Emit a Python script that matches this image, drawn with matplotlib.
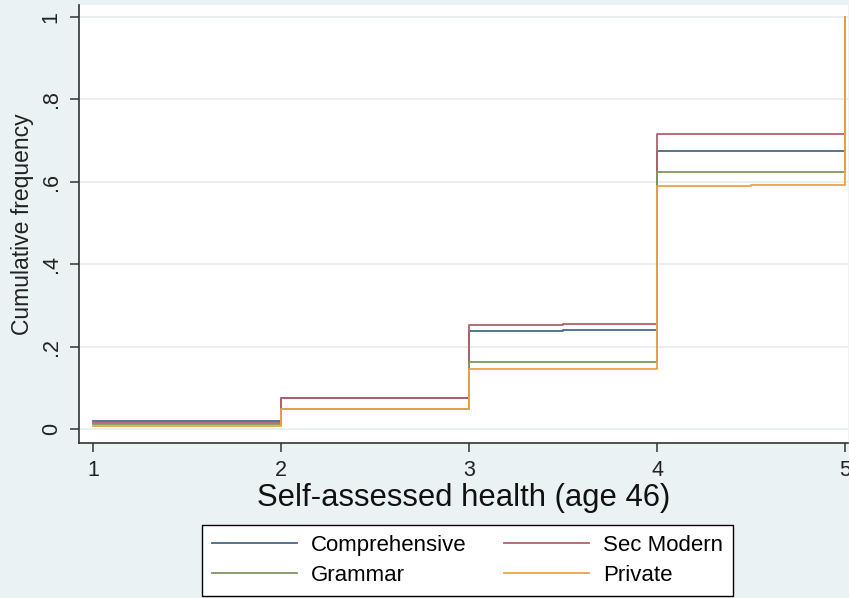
import matplotlib.pyplot as plt

# health score positions (with the half-step breaks) and cumulative frequencies
health = [1, 2, 3, 3.5, 4, 4.5, 5]
comprehensive = [0.020, 0.075, 0.238, 0.241, 0.674, 0.674, 1.0]
sec_modern = [0.016, 0.077, 0.252, 0.255, 0.716, 0.716, 1.0]
grammar = [0.012, 0.048, 0.164, 0.164, 0.624, 0.624, 1.0]
private = [0.007, 0.048, 0.147, 0.147, 0.589, 0.593, 1.0]

series_names = ["Comprehensive", "Sec Modern", "Grammar", "Private"]
series_colors = ["#47698a", "#b3606a", "#7c9a5c", "#f0a040"]

x_ticks = [1, 2, 3, 4, 5]
y_ticks = [0, 0.2, 0.4, 0.6, 0.8, 1.0]
y_tick_labels = ["0", ".2", ".4", ".6", ".8", "1"]

plt.rcParams["font.family"] = ["Liberation Sans", "DejaVu Sans"]

fig = plt.figure(figsize=(8.49, 5.98), dpi=100, facecolor="#eaf2f3")
ax = fig.add_axes([79 / 849, 1 - 443 / 598, (848 - 79) / 849, (443 - 5) / 598])
ax.set_facecolor("white")

lines = []
for ys, name, col in zip([comprehensive, sec_modern, grammar, private],
                         series_names, series_colors):
    ln, = ax.step(health, ys, where="post", color=col, lw=1.3, label=name)
    lines.append(ln)

ax.set_xlim(0.924, 5.016)
ax.set_ylim(-0.0332, 1.0284)
ax.set_xticks(x_ticks)
ax.set_yticks(y_ticks)
ax.set_yticklabels(y_tick_labels, rotation=90, va="center")
ax.yaxis.grid(True, color="#e6eef0", lw=1.2)
ax.set_axisbelow(True)

for side in ["top", "right"]:
    ax.spines[side].set_visible(False)
for side in ["left", "bottom"]:
    ax.spines[side].set_color("#333333")
    ax.spines[side].set_linewidth(1.2)
ax.tick_params(axis="both", length=6.5, width=1.1, color="#333333",
               labelsize=15.5, labelcolor="#222222", pad=6)

ax.set_xlabel("Self-assessed health (age 46)", fontsize=22.3, color="#111111", labelpad=1)
ax.set_ylabel("Cumulative frequency", fontsize=16.5, color="#222222", labelpad=5)

# legend filled row by row: Comprehensive, Sec Modern / Grammar, Private
order = [0, 2, 1, 3]
leg = fig.legend([lines[i] for i in order], [series_names[i] for i in order],
                 loc="center", bbox_to_anchor=(467.5 / 849, 1 - (524 + 597) / 2 / 598),
                 ncol=2, fontsize=16, handlelength=3.8, handletextpad=0.63,
                 columnspacing=1.7, labelspacing=0.42, frameon=True, fancybox=False,
                 borderpad=0.45, borderaxespad=0)
leg.get_frame().set_edgecolor("black")
leg.get_frame().set_linewidth(1.0)
leg.get_frame().set_facecolor("white")
leg.get_frame().set_alpha(1)

fig.savefig("out.png", dpi=100, facecolor=fig.get_facecolor())
